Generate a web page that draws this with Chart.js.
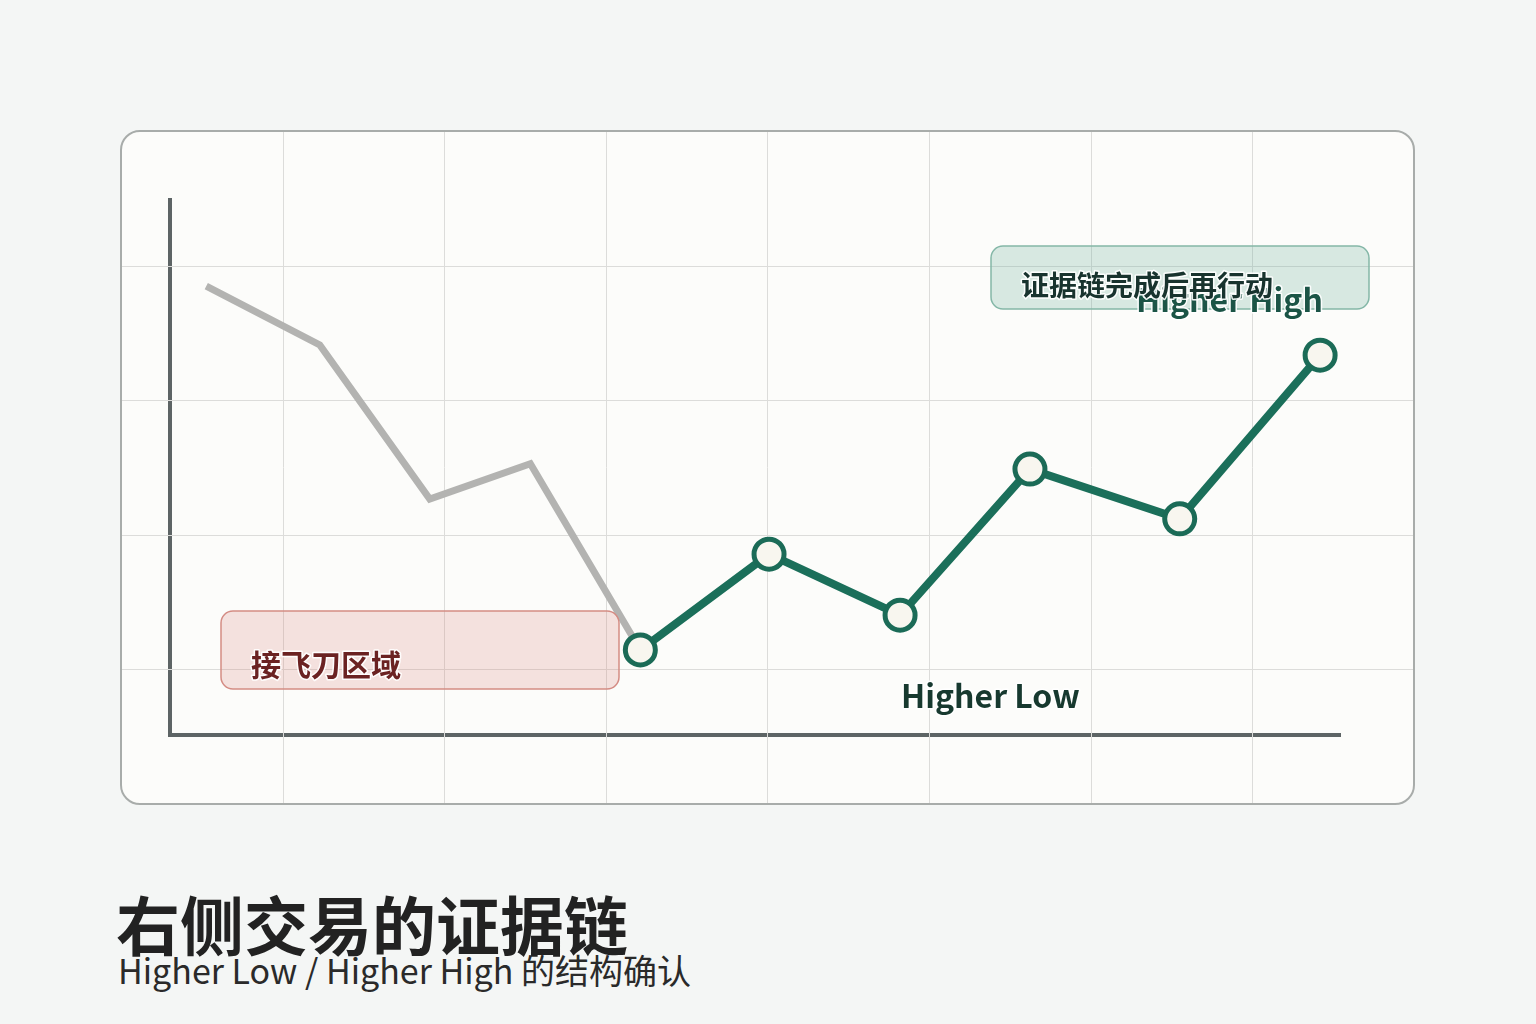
<!DOCTYPE html>
<html>
<head>
<meta charset="utf-8">
<script src="https://cdn.jsdelivr.net/npm/chart.js@4.4.1/dist/chart.umd.min.js"></script>
<style>
  html, body { margin: 0; padding: 0; }
  body { width: 1536px; height: 1024px; background: #f4f6f5; position: relative; overflow: hidden; font-family: "Noto Sans CJK SC", "Noto Sans", sans-serif; }
  #card { position: absolute; left: 120px; top: 130px; width: 1295px; height: 675px; box-sizing: border-box; border: 2px solid #a8acaa; border-radius: 20px; background: #fcfcfa; overflow: hidden; }
  #card canvas { position: absolute; left: 0; top: 0; }
  #title { position: absolute; left: 116px; top: 890px; font-size: 64px; font-weight: 700; line-height: 64px; color: #222; white-space: nowrap; }
  #subtitle { position: absolute; left: 118px; top: 953px; font-size: 34px; font-weight: 400; line-height: 34px; color: #2a2a2a; white-space: nowrap; }
</style>
</head>
<body>
<div id="card"><canvas id="chart" width="1291" height="671"></canvas></div>
<div id="title">右侧交易的证据链</div>
<div id="subtitle">Higher Low / Higher High 的结构确认</div>
<script>
// price path before the turn (grey) and after it (green)
var fallX = [3.1, 12.8, 22.2, 30.8, 40.2];
var fallY = [83.9, 72.9, 44.1, 50.7, 15.9];
var riseX = [40.2, 51.2, 62.4, 73.5, 86.3, 98.3];
var riseY = [15.9, 33.8, 22.4, 49.7, 40.4, 71.0];

var labelCatch = '接飞刀区域';
var labelWait = '证据链完成后再行动';
var labelHL = 'Higher Low';
var labelHH = 'Higher High';

function toPoints(xs, ys) {
    return xs.map(function (x, i) { return { x: x, y: ys[i] }; });
}

var cjk = '"Noto Sans CJK SC", "Noto Sans", sans-serif';

function roundBox(c, x, y, w, h, r) {
    c.beginPath();
    c.moveTo(x + r, y);
    c.lineTo(x + w - r, y);
    c.arcTo(x + w, y, x + w, y + r, r);
    c.lineTo(x + w, y + h - r);
    c.arcTo(x + w, y + h, x + w - r, y + h, r);
    c.lineTo(x + r, y + h);
    c.arcTo(x, y + h, x, y + h - r, r);
    c.lineTo(x, y + r);
    c.arcTo(x, y, x + r, y, r);
    c.closePath();
}

function haloText(c, text, x, y, font, color) {
    c.font = font;
    c.textBaseline = 'alphabetic';
    c.textAlign = 'left';
    c.lineJoin = 'round';
    c.lineWidth = 3;
    c.strokeStyle = 'rgba(255,255,255,0.9)';
    c.strokeText(text, x, y);
    c.fillStyle = color;
    c.fillText(text, x, y);
}

// light 8x5 grid across the whole card
var cardGrid = {
    id: 'cardGrid',
    beforeDatasetsDraw: function (chart) {
        var c = chart.ctx;
        c.save();
        c.strokeStyle = '#dcdcda';
        c.lineWidth = 1;
        for (var i = 1; i < 8; i++) {
            var gx = Math.round(i * 161.6 - 1) + 0.5;
            c.beginPath(); c.moveTo(gx, 0); c.lineTo(gx, chart.height); c.stroke();
        }
        for (var j = 1; j < 5; j++) {
            var gy = Math.round(j * 134.6 - 1) + 0.5;
            c.beginPath(); c.moveTo(0, gy); c.lineTo(chart.width, gy); c.stroke();
        }
        c.restore();
    }
};

var notes = {
    id: 'notes',
    afterDatasetsDraw: function (chart) {
        var c = chart.ctx;
        var a = chart.chartArea;
        c.save();
        // red zone
        roundBox(c, a.left + 51, a.top + 411, 398, 78, 12);
        c.fillStyle = 'rgba(214, 120, 110, 0.20)';
        c.fill();
        c.lineWidth = 1.5;
        c.strokeStyle = '#d48c84';
        c.stroke();
        haloText(c, labelCatch, a.left + 81, a.top + 476, '700 30px ' + cjk, '#6b2222');

        // green box
        roundBox(c, a.left + 821, a.top + 46, 378, 63, 12);
        c.fillStyle = 'rgba(120, 180, 160, 0.28)';
        c.fill();
        c.lineWidth = 1.5;
        c.strokeStyle = '#84b7a7';
        c.stroke();
        haloText(c, labelHH, a.left + 966, a.top + 112, '700 32px ' + cjk, '#1b5446');
        haloText(c, labelWait, a.left + 851, a.top + 96, '700 28px ' + cjk, '#18332e');

        haloText(c, labelHL, a.left + 731, a.top + 508, '700 32px ' + cjk, '#17392f');
        c.restore();
    }
};

var ctx = document.getElementById('chart').getContext('2d');
var chart = new Chart(ctx, {
    type: 'line',
    data: {
        datasets: [{
            label: 'fall',
            data: toPoints(fallX, fallY),
            borderColor: '#b3b3b1',
            borderWidth: 7,
            pointRadius: 0,
            pointHoverRadius: 0,
            tension: 0,
            order: 2
        }, {
            label: 'rise',
            data: toPoints(riseX, riseY),
            borderColor: '#1b6f5a',
            borderWidth: 8,
            pointRadius: 15,
            pointHoverRadius: 15,
            pointBorderWidth: 5,
            pointBorderColor: '#1b6b57',
            pointBackgroundColor: '#f8f6ef',
            tension: 0,
            order: 1
        }]
    },
    options: {
        responsive: false,
        animation: false,
        events: [],
        layout: {
            padding: { left: 48, right: 73, top: 68, bottom: 68 }
        },
        scales: {
            x: {
                type: 'linear',
                min: 0,
                max: 100,
                grid: { display: false, drawTicks: false },
                ticks: { display: false },
                border: { display: true, color: '#5d6465', width: 4 }
            },
            y: {
                type: 'linear',
                min: 0,
                max: 100,
                grid: { display: false, drawTicks: false },
                ticks: { display: false },
                border: { display: true, color: '#5d6465', width: 4 }
            }
        },
        plugins: {
            legend: { display: false },
            tooltip: { enabled: false }
        },
        clip: false
    },
    plugins: [cardGrid, notes]
});
</script>
</body>
</html>
